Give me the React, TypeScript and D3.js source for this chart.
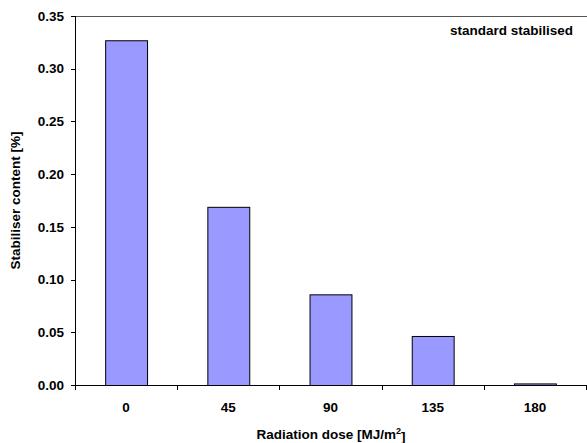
import React from "react";
import * as d3 from "d3";

const categories = ["0", "45", "90", "135", "180"];
const values = [0.327, 0.169, 0.086, 0.0465, 0.0015];
const yTicks = [0, 0.05, 0.1, 0.15, 0.2, 0.25, 0.3, 0.35];

const W = 587;
const H = 443;
const m = { left: 75, right: 1, top: 16, bottom: 58 };
const FS = 13.5;

export default function App() {
  const x = d3
    .scaleBand<string>()
    .domain(categories)
    .range([m.left, W - m.right])
    .paddingInner(0.59)
    .paddingOuter(0.295);
  const xb = d3.scaleBand<string>().domain(categories).range([m.left, W - m.right]);
  const y = d3.scaleLinear().domain([0, 0.35]).range([H - m.bottom, m.top]);
  const font = "'Liberation Sans', Arial, sans-serif";
  const y0 = y(0);
  const edges = categories.map((c) => xb(c)!).concat([W - m.right]);
  return (
    <svg
      width={W}
      height={H}
      style={{ position: "absolute", left: 0, top: 0, background: "#fff" }}
      fontFamily={font}
      fontWeight="bold"
    >
      <line x1={m.left} x2={W} y1={m.top + 0.5} y2={m.top + 0.5} stroke="#555" />
      {categories.map((c, i) => (
        <rect
          key={c}
          x={x(c)! + 0.5}
          y={y(values[i]) + 0.5}
          width={x.bandwidth()}
          height={Math.max(0, y0 - y(values[i]))}
          fill="#9999FF"
          stroke="#000"
          strokeWidth={1}
        />
      ))}
      <line x1={m.left + 0.5} x2={m.left + 0.5} y1={m.top} y2={y0} stroke="#000" />
      <line x1={m.left} x2={W} y1={y0 + 0.5} y2={y0 + 0.5} stroke="#000" />
      {yTicks.map((t) => (
        <g key={t}>
          <line x1={m.left - 4} x2={m.left} y1={Math.round(y(t)) + 0.5} y2={Math.round(y(t)) + 0.5} stroke="#000" />
          <text x={m.left - 11} y={y(t)} dy="0.35em" textAnchor="end" fontSize={FS}>
            {t.toFixed(2)}
          </text>
        </g>
      ))}
      {edges.map((e, i) => (
        <line key={i} x1={Math.round(e) + 0.5} x2={Math.round(e) + 0.5} y1={y0} y2={y0 + 5} stroke="#000" />
      ))}
      {categories.map((c) => (
        <text key={c} x={xb(c)! + xb.bandwidth() / 2} y={407} dy="0.35em" textAnchor="middle" fontSize={FS}>
          {c}
        </text>
      ))}
      <text x={(m.left + W) / 2} y={434} dy="0.35em" textAnchor="middle" fontSize={FS}>
        Radiation dose [MJ/m
        <tspan fontSize={9} dy="-0.5em">2</tspan>
        <tspan dy="0.5em">]</tspan>
      </text>
      <text
        transform={`translate(15,${(m.top + y0) / 2}) rotate(-90)`}
        dy="0.35em"
        textAnchor="middle"
        fontSize={FS}
      >
        Stabiliser content [%]
      </text>
      <text x={573} y={30} dy="0.35em" textAnchor="end" fontSize={FS}>
        standard stabilised
      </text>
    </svg>
  );
}
